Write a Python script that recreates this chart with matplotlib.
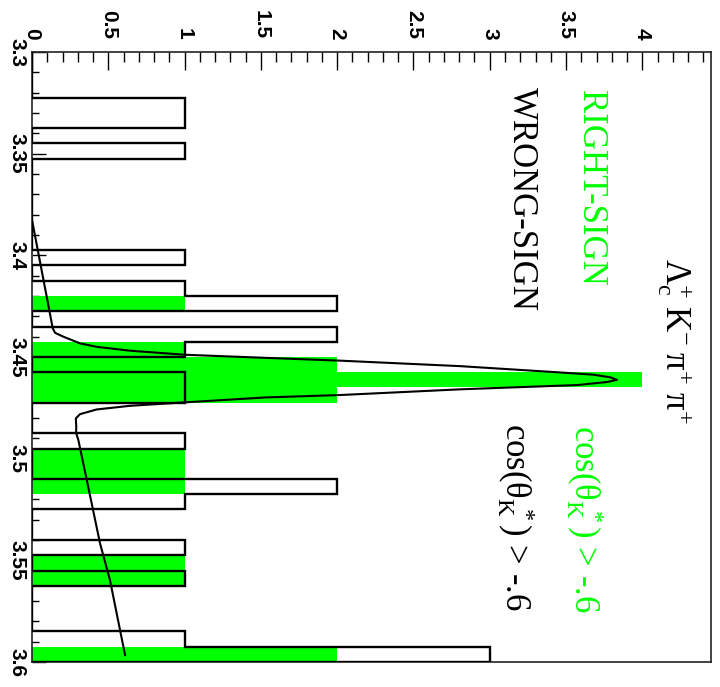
import numpy as np
import matplotlib.pyplot as plt

plt.rcParams['mathtext.fontset'] = 'custom'
plt.rcParams['mathtext.rm'] = 'Liberation Serif'
plt.rcParams['mathtext.it'] = 'Liberation Serif:italic'
plt.rcParams['mathtext.bf'] = 'Liberation Serif:bold'

# mass histogram: 40 bins of 7.5 MeV from 3.3 to 3.6
MASS_LO, MASS_HI, N_BINS = 3.3, 3.6, 40

right_sign = [0, 0, 0, 0, 0, 0, 0, 0, 0, 0,
              0, 0, 0, 0, 0, 0, 1, 0, 0, 1,
              2, 4, 2, 0, 0, 0, 1, 1, 1, 0,
              0, 0, 0, 1, 1, 0, 0, 0, 0, 2]
wrong_sign = [0, 0, 0, 1, 1, 0, 1, 0, 0, 0,
              0, 0, 0, 1, 0, 1, 2, 0, 2, 1,
              0, 1, 1, 0, 0, 1, 0, 0, 2, 1,
              0, 0, 1, 0, 1, 0, 0, 0, 1, 3]

# fit curve
fit_mass = [3.3826, 3.4359, 3.4381, 3.4400, 3.4433, 3.4450, 3.4469, 3.4489,
            3.4505, 3.4518, 3.4545, 3.4576, 3.4587, 3.4600, 3.4612, 3.4623,
            3.4638, 3.4659, 3.4687, 3.4699, 3.4723, 3.4740, 3.4758, 3.4781,
            3.4802, 3.4840, 3.4874, 3.4909, 3.5105, 3.5417, 3.5597, 3.5966]
fit_count = [0.0, 0.136, 0.151, 0.205, 0.315, 0.424, 0.643, 1.003,
             1.561, 2.020, 2.807, 3.462, 3.679, 3.790, 3.834, 3.769,
             3.572, 2.807, 2.020, 1.528, 1.003, 0.643, 0.424, 0.315,
             0.287, 0.290, 0.289, 0.304, 0.359, 0.446, 0.511, 0.610]

count_ticks = [0, 0.5, 1, 1.5, 2, 2.5, 3, 3.5, 4]
count_labels = ['0', '0.5', '1', '1.5', '2', '2.5', '3', '3.5', '4']
mass_ticks = [3.3, 3.35, 3.4, 3.45, 3.5, 3.55, 3.6]
mass_labels = ['3.3', '3.35', '3.4', '3.45', '3.5', '3.55', '3.6']

GREEN = '#00ff00'

edges = np.linspace(MASS_LO, MASS_HI, N_BINS + 1)

fig = plt.figure(figsize=(7.2, 6.87), dpi=100)
ax = fig.add_axes([32 / 720, 1 - 662 / 687, (711 - 32) / 720, (662 - 52) / 687])

# page is turned: counts run left->right, mass runs top->bottom
ax.barh(edges[:-1], right_sign, height=np.diff(edges), align='edge',
        color=GREEN, linewidth=0, zorder=2)
ax.stairs(wrong_sign, edges, orientation='horizontal', color='black',
          linewidth=1.7, zorder=3)
ax.plot(fit_count, fit_mass, color='black', linewidth=1.5, zorder=4)

ax.set_xlim(0, 4.45)
ax.set_ylim(MASS_HI, MASS_LO)

tick_font = dict(family='Liberation Sans', weight='bold', size=15)
ax.xaxis.tick_top()
ax.set_xticks(count_ticks)
ax.set_xticklabels(count_labels, rotation=-90, ha='center', va='bottom', **tick_font)
ax.set_xticks(np.arange(0, 4.45, 0.1), minor=True)
ax.set_yticks(mass_ticks)
ax.set_yticklabels(mass_labels, rotation=-90, ha='right', va='center', **tick_font)
ax.set_yticks(np.arange(3.3, 3.6001, 0.01), minor=True)
ax.tick_params(axis='x', which='both', direction='in', top=True, bottom=False,
               pad=9, width=1)
ax.tick_params(axis='x', which='major', length=13)
ax.tick_params(axis='x', which='minor', length=7)
ax.tick_params(axis='y', which='both', direction='in', left=True, right=False,
               pad=4, width=1)
ax.tick_params(axis='y', which='major', length=10)
ax.tick_params(axis='y', which='minor', length=5)
for s in ax.spines.values():
    s.set_linewidth(1.2)
    s.set_color('#222222')

txt = dict(rotation=-90, ha='center', va='top', family='Liberation Serif', size=25)
ax.text(4.216, 3.4013,
        r'$\mathrm{\Lambda}_{\mathrm{c}}^{+}\;\mathrm{K}^{-}\;\mathrm{\pi}^{+}\;\mathrm{\pi}^{+}$',
        color='black', **txt)
ax.text(3.659, 3.3187, 'RIGHT-SIGN', color=GREEN, **txt)
ax.text(3.207, 3.3172, 'WRONG-SIGN', color='black', **txt)
ax.text(3.623, 3.4835, r'cos($\mathrm{\theta}_{\mathrm{K}}^{\ *}$) > -.6', color=GREEN, **txt)
ax.text(3.174, 3.4825, r'cos($\mathrm{\theta}_{\mathrm{K}}^{\ *}$) > -.6', color='black', **txt)

fig.savefig('out.png', dpi=100)
